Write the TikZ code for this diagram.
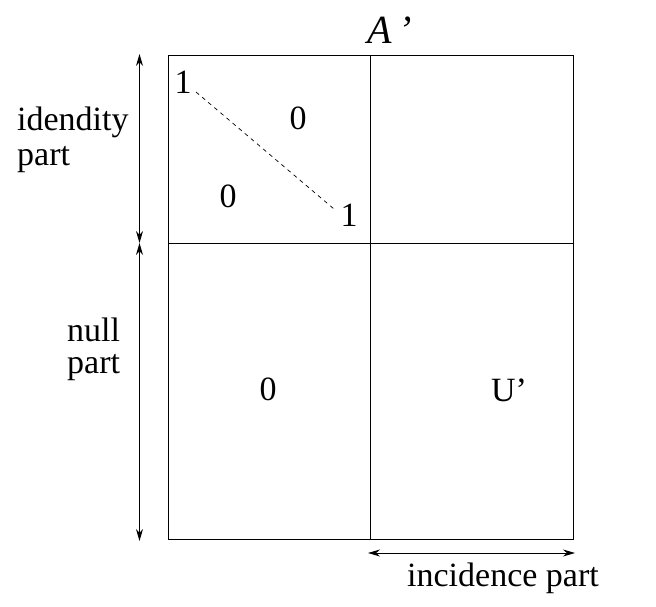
\documentclass[tikz,border=0pt]{standalone}
\usepackage{fontspec}
\setmainfont{Liberation Serif}
\usetikzlibrary{arrows.meta}
\begin{document}
\begin{tikzpicture}[x=1pt,y=-1pt,
  lbl/.style={inner sep=0pt,font=\fontsize{34}{40}\selectfont},
  ln/.style={line width=1pt},
  dim/.style={line width=1pt,{Stealth[length=12pt,width=7pt]}-{Stealth[length=12pt,width=7pt]}}]
\useasboundingbox (0,0) rectangle (656,607);
\coordinate (TL) at (168,56);
\coordinate (TR) at (573,56);
\coordinate (BL) at (168,539);
\coordinate (BR) at (573,539);
\coordinate (MT) at (370,56);
\coordinate (MB) at (370,539);
\coordinate (ML) at (168,243);
\coordinate (MR) at (573,243);
\draw[ln] (TL) rectangle (BR);
\draw[ln] (MT) -- (MB);
\draw[ln] (ML) -- (MR);
\coordinate (va) at (139.5,54);
\coordinate (vb) at (139.5,243);
\coordinate (vc) at (139.5,541);
\draw[dim] (va) -- (vb);
\draw[dim] (vb) -- (vc);
\coordinate (ha) at (368,553);
\coordinate (hb) at (575,553);
\draw[dim] (ha) -- (hb);
\node[lbl,font=\fontsize{40}{46}\selectfont] (Ap) at (390,30) {\itshape A\,’};
\node[lbl] (one1) at (183,82) {1};
\node[lbl] (one2) at (349,215) {1};
\draw[line width=0.7pt,dash pattern=on 4pt off 4pt] (196,92) -- (334,209);
\node[lbl] (z1) at (298,118) {0};
\node[lbl] (z2) at (228,196) {0};
\node[lbl] (z3) at (268,389) {0};
\node[lbl] (U) at (509,390) {U’};
\node[lbl,anchor=west] (id1) at (17,122) {idendity};
\node[lbl,anchor=west] (id2) at (17,160) {part};
\node[lbl,anchor=west] (nu1) at (67,330) {null};
\node[lbl,anchor=west] (nu2) at (67,368) {part};
\node[lbl] (inc) at (503,578) {incidence part};
\end{tikzpicture}
\end{document}
